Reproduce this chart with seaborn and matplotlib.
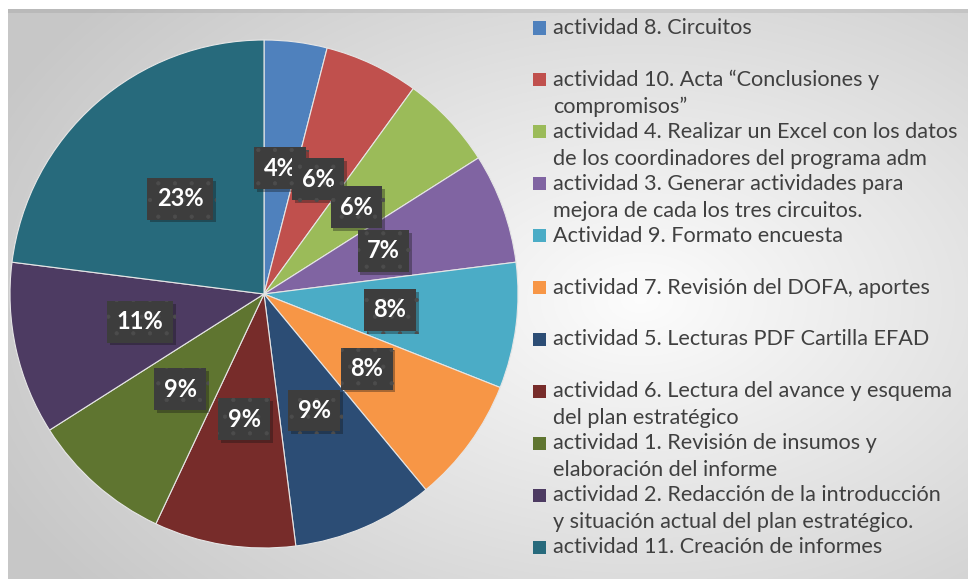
import numpy as np
import matplotlib.pyplot as plt
import matplotlib.patheffects as pe
from matplotlib.patches import Rectangle
import seaborn as sns

sns.set_theme(style='white')
plt.rcParams['font.family'] = ['Lato', 'DejaVu Sans']
plt.rcParams['hatch.linewidth'] = 0.6

# --- datos ---
actividades = [
    'actividad 8. Circuitos',
    'actividad 10. Acta “Conclusiones y\ncompromisos”',
    'actividad 4. Realizar un Excel con los datos\nde los coordinadores del programa adm',
    'actividad 3. Generar actividades para\nmejora de cada los tres circuitos.',
    'Actividad 9. Formato encuesta',
    'actividad 7. Revisión del DOFA, aportes',
    'actividad 5. Lecturas PDF Cartilla EFAD',
    'actividad 6. Lectura del avance y esquema\ndel plan estratégico',
    'actividad 1. Revisión de insumos y\nelaboración del informe',
    'actividad 2. Redacción de la introducción\ny situación actual del plan estratégico.',
    'actividad 11. Creación de informes',
]
porcentajes = [4, 6, 6, 7, 8, 8, 9, 9, 9, 11, 23]
colores = ['#4F81BD', '#C0504D', '#9BBB59', '#8064A2', '#4BACC6', '#F79646',
           '#2C4D75', '#772C2A', '#5F7530', '#4D3B62', '#276A7C']

W, H = 968, 579
fig = plt.figure(figsize=(W / 100, H / 100), dpi=100)

# --- fondo con degradado ---
bg = fig.add_axes([0, 0, 1, 1])
bg.axis('off')
yy, xx = np.mgrid[0:H, 0:W]
d = np.hypot((xx - 640) / 650, (yy - 300) / 420)
g = 0.99 - 0.19 * np.clip(d, 0, 1.1)
img = np.dstack([g, g, g])
img[9:13, 8:] *= 0.93
img[:9, :] = 1
img[:, :8] = 1
bg.imshow(img, aspect='auto', extent=(0, W, H, 0))
bg.set_xlim(0, W)
bg.set_ylim(H, 0)

# --- pastel ---
ax = fig.add_axes([10 / W, 31 / H, 508 / W, 508 / H])
wedges, textos, autotextos = ax.pie(
    porcentajes, colors=colores, startangle=90, counterclock=False,
    autopct='%.0f%%', pctdistance=0.5,
    wedgeprops={'edgecolor': '#e6e6e6', 'linewidth': 0.8},
    textprops={'color': 'white', 'fontsize': 17, 'fontweight': 'bold'})
ax.set_xlim(-1, 1)
ax.set_ylim(-1, 1)

for t in autotextos:
    t.set_bbox({'boxstyle': 'square,pad=0.4', 'facecolor': '#3d3d3d',
                'edgecolor': '#4c4c4c', 'linewidth': 0, 'hatch': '.'})
    t.get_bbox_patch().set_path_effects(
        [pe.SimplePatchShadow(offset=(2, -2), alpha=0.35), pe.Normal()])

# --- leyenda manual ---
slot = 51.9
for i, (nombre, color) in enumerate(zip(actividades, colores)):
    y0 = 28 + i * slot
    fig.add_artist(Rectangle((533 / W, 1 - (y0 + 6.5) / H), 13 / W, 13 / H,
                             transform=fig.transFigure, facecolor=color,
                             edgecolor='none'))
    for k, linea in enumerate(nombre.split('\n')):
        fig.text(553 / W, 1 - (y0 + k * 27) / H, linea, fontsize=15.6,
                 color='#404040', va='center', ha='left')

fig.savefig('out.png', dpi=100)
